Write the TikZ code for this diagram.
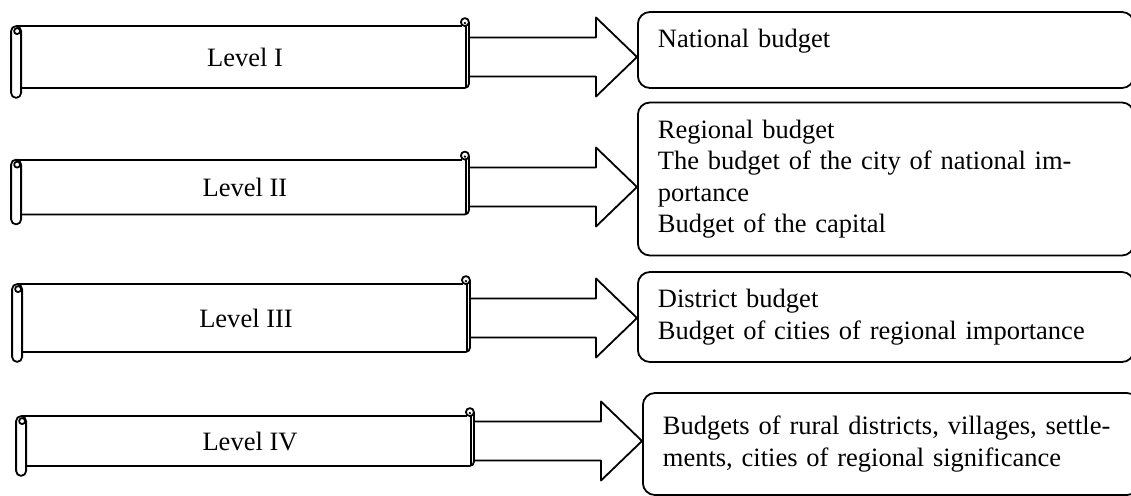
\documentclass[tikz,border=0pt]{standalone}
\usepackage{fontspec}
\setmainfont{Liberation Serif}
\usetikzlibrary{calc}

\newcommand{\scrollframe}[1]{%
  \draw[rounded corners=5pt] ([xshift=-10pt]#1.north west) rectangle ([yshift=-10pt]#1.south west);
  \draw ([xshift=-4pt,yshift=-5pt]#1.north west) circle (3pt);
  \draw ([xshift=-5pt]#1.north west) -- ([xshift=-7pt]#1.north east);
  \draw[rounded corners=4pt] (#1.south west) -- (#1.south east) -- ([yshift=4pt]#1.north east);
  \draw ([xshift=-3pt]#1.north east) -- ([xshift=-3pt]#1.south east);
  \draw ([xshift=-4pt,yshift=4pt]#1.north east) circle (4pt);
  \fill ([xshift=-4pt,yshift=3pt]#1.north east) circle (1.3pt);}

\newcommand{\budgetarrow}[2]{%
  \draw let \p1=(#1.east), \p2=(#2.west) in
    (\x1+1pt,\y1+19.5pt) -- (\x2-41pt,\y1+19.5pt) -- (\x2-41pt,\y1+39.5pt) -- (\x2,\y1)
    -- (\x2-41pt,\y1-39.5pt) -- (\x2-41pt,\y1-19.5pt) -- (\x1+1pt,\y1-19.5pt);}

\begin{document}
\begin{tikzpicture}[x=1pt,y=-1pt,line width=1.8pt,line join=round,
                    font=\fontsize{26.5}{31.5}\selectfont]
  \tikzstyle{level}=[inner sep=0pt,minimum width=446pt]
  \tikzstyle{budget}=[draw,rounded corners=12pt,align=left,anchor=west,
                      text width=456pt,inner xsep=20pt,inner ysep=0pt]
  \useasboundingbox (0,0) rectangle (1131,495);

  \node[level,minimum height=60pt] (lvl1) at (245,57)  {Level I};
  \node[level,minimum height=53pt] (lvl2) at (245,187) {Level II};
  \node[level,minimum height=66pt] (lvl3) at (246,318) {Level III};
  \node[level,minimum height=48pt] (lvl4) at (250,441) {Level IV};

  \node[budget,minimum height=76pt,text height=18pt,text depth=22pt]
        (bud1) at (637,50)  {National budget};
  \node[budget,minimum height=153pt] (bud2) at (637,179) {Regional budget\\
        The budget of the city of national im-\\portance\\Budget of the capital};
  \node[budget,minimum height=90pt]  (bud3) at (637,317) {District budget\\
        Budget of cities of regional importance};
  \node[budget,minimum height=102pt] (bud4) at (642,444) {Budgets of rural districts, villages, settle-\\
        ments, cities of regional significance};

  \foreach \n in {lvl1,lvl2,lvl3,lvl4} {\scrollframe{\n}}

  \budgetarrow{lvl1}{bud1}
  \budgetarrow{lvl2}{bud2}
  \budgetarrow{lvl3}{bud3}
  \budgetarrow{lvl4}{bud4}
\end{tikzpicture}
\end{document}
